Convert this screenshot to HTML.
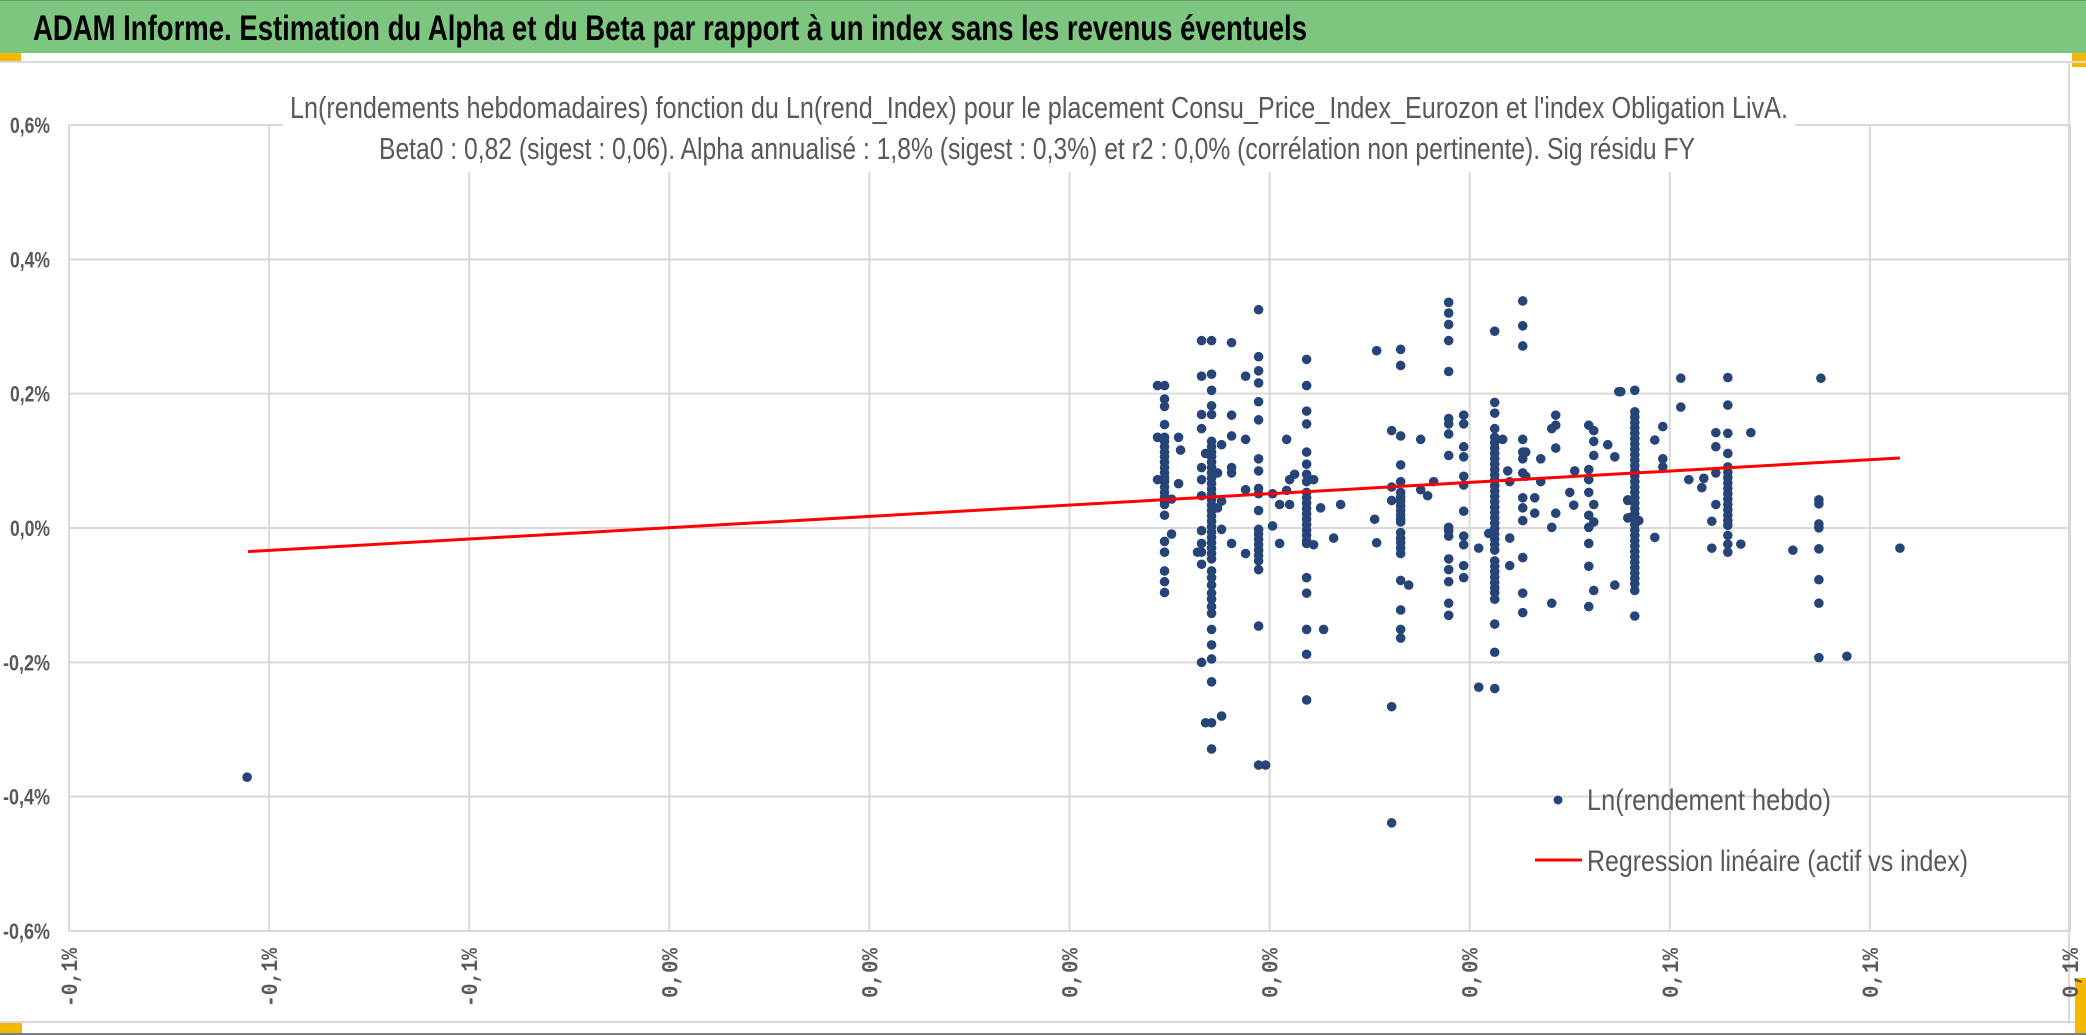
<!DOCTYPE html>
<html><head><meta charset="utf-8">
<style>
html,body{margin:0;padding:0;background:#fff;}
svg{display:block;}
.ttl{font-family:"Liberation Sans Narrow","Liberation Sans",sans-serif;}
</style></head>
<body>
<svg id="chart" width="2086" height="1035" viewBox="0 0 2086 1035" xmlns="http://www.w3.org/2000/svg">
  <rect x="0" y="0" width="2086" height="1035" fill="#ffffff"/>
  <rect x="0" y="0" width="2086" height="53" fill="#7dc680"/>
  <line x1="0" y1="0.5" x2="2086" y2="0.5" stroke="#6a9a6c" stroke-width="1"/>
  <text x="33" y="40" class="ttl" font-size="35" font-weight="bold" fill="#000" textLength="1274" lengthAdjust="spacingAndGlyphs">ADAM Informe. Estimation du Alpha et du Beta par rapport à un index sans les revenus éventuels</text>
  <rect x="0" y="53" width="21" height="8" fill="#f5b800"/>
  <rect x="2072" y="53" width="14" height="14" fill="#f5b800"/>
  <line x1="0" y1="62" x2="2086" y2="62" stroke="#d9d9d9" stroke-width="2"/>
  <line x1="2069" y1="62" x2="2069" y2="1022" stroke="#d9d9d9" stroke-width="2"/>
  <line x1="0" y1="1022" x2="2086" y2="1022" stroke="#d9d9d9" stroke-width="2"/>
  <line x1="0" y1="1034" x2="2086" y2="1034" stroke="#7f7f7f" stroke-width="2"/>
  <rect x="0" y="1023" width="22" height="10" fill="#f5b800"/>
  <rect x="2075" y="978" width="11" height="55" fill="#f5b800"/>
  <g id="grid"></g>
  <g id="ylabels"></g>
  <g id="xlabels"></g>
  <rect x="283" y="85" width="1512" height="87" fill="#ffffff"/>
  <text x="290" y="118" class="ttl" font-size="31" fill="#595959" textLength="1498" lengthAdjust="spacingAndGlyphs">Ln(rendements hebdomadaires) fonction du Ln(rend_Index) pour le placement Consu_Price_Index_Eurozon et l'index Obligation LivA.</text>
  <text x="379" y="159" class="ttl" font-size="31" fill="#595959" textLength="1316" lengthAdjust="spacingAndGlyphs">Beta0 : 0,82 (sigest : 0,06). Alpha annualisé : 1,8% (sigest : 0,3%) et r2 : 0,0% (corrélation non pertinente). Sig résidu FY</text>
  <g id="points"></g>
  <g id="reg"></g>
  <g>
    <circle cx="1558" cy="800" r="4.5" fill="#264478"/>
    <text x="1587" y="810" class="ttl" font-size="30" fill="#595959" textLength="244" lengthAdjust="spacingAndGlyphs">Ln(rendement hebdo)</text>
    <line x1="1535" y1="860" x2="1582" y2="860" stroke="#ff0000" stroke-width="3"/>
    <text x="1587" y="871" class="ttl" font-size="30" fill="#595959" textLength="381" lengthAdjust="spacingAndGlyphs">Regression linéaire (actif vs index)</text>
  </g>
</svg>
<script>
// ---- data ----
const xTicks = [-0.1,-0.08,-0.06,-0.04,-0.02,0,0.02,0.04,0.06,0.08,0.1];
const xTickLabels = ["-0,1%","-0,1%","-0,1%","0,0%","0,0%","0,0%","0,0%","0,0%","0,1%","0,1%","0,1%"];
const yTicks = [0.6,0.4,0.2,0,-0.2,-0.4,-0.6];
const yTickLabels = ["0,6%","0,4%","0,2%","0,0%","-0,2%","-0,4%","-0,6%"];
const colX = [0.0095,0.0088,0.0102,0.0109,0.0111,0.0132,0.0136,0.0128,0.0142,0.0152,0.0148,0.0162,0.0176,
  0.0189,0.0196,0.0203,0.0210,0.0217,0.0220,0.0225,0.0237,0.0244,0.0251,0.0254,0.0264,0.0271,
  0.0305,0.0307,0.0322,0.0331,0.0339,0.0351,0.0358,0.0364,0.0379,0.0394,0.0409,0.0419,0.0425,0.0433,0.0438,0.0440,
  0.0453,0.0456,0.0465,0.0471,0.0482,0.0486,0.0500,0.0504,0.0505,0.0519,0.0524,0.0538,0.0545,0.0549,
  0.0558,0.0565,0.0551,0.0569,0.0561,0.0585,0.0593,0.0611,0.0619,0.0632,0.0634,0.0642,0.0646,
  0.0658,0.0671,0.0681,0.0723,0.0749,0.0751,0.0777,0.0830,-0.0822];
const colY = [
  [0.212,0.192,0.181,0.154,0.135,0.129,0.121,0.113,0.106,0.098,0.090,0.082,0.075,0.069,0.061,0.053,0.046,0.040,0.035,0.019,-0.020,-0.036,-0.064,-0.080,-0.096],
  [0.212,0.135,0.072],
  [0.043,-0.009],
  [0.135,0.066],
  [0.116],
  [0.279,0.226,0.169,0.148,0.090,0.072,0.048,-0.004,-0.023,-0.036,-0.054,-0.200],
  [0.111,-0.290],
  [-0.036],
  [0.279,0.229,0.205,0.182,0.169,0.129,0.121,0.113,0.106,0.098,0.090,0.082,0.074,0.066,0.058,0.050,0.042,0.034,0.026,0.018,0.010,0.002,-0.006,-0.014,-0.022,-0.030,-0.038,-0.046,-0.064,-0.074,-0.085,-0.097,-0.106,-0.117,-0.127,-0.151,-0.174,-0.195,-0.229,-0.290,-0.329],
  [-0.280,0.124,0.040,-0.002],
  [0.082,0.030],
  [0.276,0.168,0.137,0.090,0.082,-0.023],
  [0.226,0.132,0.057,-0.038],
  [0.325,0.255,0.234,0.216,0.188,0.161,0.103,0.085,0.059,0.051,0.026,-0.002,-0.009,-0.017,-0.025,-0.033,-0.041,-0.049,-0.062,-0.146,-0.353],
  [-0.353],
  [0.051,0.003],
  [0.035,-0.023],
  [0.132,0.056],
  [0.072,0.035],
  [0.080],
  [0.251,0.212,0.174,0.155,0.113,0.095,0.080,0.069,0.053,0.045,0.037,0.029,0.021,0.013,0.005,-0.003,-0.011,-0.019,-0.023,-0.074,-0.097,-0.151,-0.188,-0.256],
  [0.072,-0.025],
  [0.030],
  [-0.151],
  [-0.015],
  [0.035],
  [0.013],
  [0.264,-0.022],
  [0.145,0.061,0.041,-0.266,-0.439],
  [0.266,0.242,0.137,0.094,0.069,0.053,0.046,0.040,0.033,0.026,0.019,0.013,0.009,-0.007,-0.015,-0.022,-0.030,-0.038,-0.078,-0.122,-0.151,-0.164],
  [-0.085],
  [0.132,0.057],
  [0.048],
  [0.069],
  [0.336,0.320,0.303,0.279,0.233,0.163,0.155,0.140,0.108,0.001,-0.004,-0.012,-0.046,-0.062,-0.080,-0.112,-0.130],
  [0.168,0.155,0.121,0.106,0.077,0.064,0.025,-0.012,-0.025,-0.056,-0.074],
  [-0.030,-0.237],
  [-0.008],
  [0.293,0.187,0.171,0.148,0.135,0.127,0.119,0.111,0.103,0.095,0.087,0.079,0.071,0.063,0.055,0.047,0.039,0.031,0.023,0.015,0.007,-0.001,-0.009,-0.017,-0.025,-0.033,-0.049,-0.057,-0.065,-0.073,-0.081,-0.089,-0.096,-0.106,-0.143,-0.185,-0.239],
  [0.132],
  [0.085],
  [0.069,-0.015,-0.056],
  [0.338,0.301,0.271,0.132,0.113,0.103,0.082,0.045,0.030,0.011,-0.044,-0.097,-0.126],
  [0.113,0.077],
  [0.045,0.022],
  [0.103,0.069],
  [-0.112,0.001,0.148],
  [0.168,0.153,0.119,0.022],
  [0.053],
  [0.034],
  [0.085],
  [0.153,0.087,0.072,0.053,0.019,0.001,-0.023,-0.057,-0.117],
  [0.145,0.129,0.108,0.035,0.009,-0.093],
  [0.124],
  [0.106,-0.085],
  [0.203],
  [0.041,0.015,0.042],
  [0.205,0.173,0.165,0.157,0.149,0.141,0.133,0.125,0.117,0.109,0.101,0.093,0.085,0.077,0.069,0.061,0.053,0.045,0.037,0.029,0.021,0.013,0.005,-0.003,-0.011,-0.019,-0.027,-0.035,-0.043,-0.051,-0.059,-0.067,-0.075,-0.083,-0.093,-0.131],
  [0.203],
  [0.011],
  [0.016],
  [0.131,-0.014],
  [0.151,0.103,0.091],
  [0.223,0.180],
  [0.072],
  [0.060],
  [0.074],
  [0.010,-0.030],
  [0.142,0.121,0.082,0.035],
  [0.224,0.183,0.141,0.111,0.091,0.083,0.075,0.067,0.059,0.051,0.043,0.035,0.027,0.019,0.011,0.004,-0.011,-0.024,-0.036],
  [-0.024],
  [0.142],
  [-0.033],
  [0.042,0.036,0.006,0.0003,-0.031,-0.077,-0.112,-0.193],
  [0.223],
  [-0.191],
  [-0.030],
  [-0.371]
];
const regX = [-0.0821, 0.0830];
const regY = [-0.0351, 0.1042];

// ---- axes ----
const PL = 69, PR = 2070, PT = 125, PB = 931;
const xMin = -0.1, xMax = 0.1, yMin = -0.6, yMax = 0.6;
function sx(v){ return PL + (v - xMin) / (xMax - xMin) * (PR - PL); }
function sy(v){ return PB - (v - yMin) / (yMax - yMin) * (PB - PT); }
const NS = "http://www.w3.org/2000/svg";
function mk(tag, attrs, parent){
  const el = document.createElementNS(NS, tag);
  for (const k in attrs) el.setAttribute(k, attrs[k]);
  parent.appendChild(el);
  return el;
}
const grid = document.getElementById('grid');
const ylab = document.getElementById('ylabels');
const xlab = document.getElementById('xlabels');
yTicks.forEach((t, i) => {
  const l = mk('line', {x1: PL, x2: PR, y1: sy(t), y2: sy(t), stroke: '#d9d9d9', 'stroke-width': 2}, grid);
  
  
  const lab = yTickLabels[i];
  const w = lab.length > 4 ? 47 : 40;
  const tx = mk('text', {x: 50 - w, y: sy(t) + 8, 'font-family': '"Liberation Sans Narrow","Liberation Sans",sans-serif', 'font-size': 22, 'font-weight': 'bold', fill: '#595959', textLength: w, lengthAdjust: 'spacingAndGlyphs'}, ylab);
  tx.textContent = lab;
  
  
});
xTicks.forEach((t, i) => {
  const l = mk('line', {x1: sx(t), x2: sx(t), y1: PT, y2: PB, stroke: '#d9d9d9', 'stroke-width': 2}, grid);
  
  
  const lab = xTickLabels[i];
  const w = lab.length > 4 ? 59 : 50;
  const x = sx(t) + 8, y = 948 + w;
  const tx = mk('text', {x: x, y: y, transform: 'rotate(-90 ' + x + ' ' + y + ')', 'font-family': '"Liberation Mono",monospace', 'font-size': 23, 'font-weight': 'bold', fill: '#595959', textLength: w, lengthAdjust: 'spacingAndGlyphs'}, xlab);
  tx.textContent = lab;
  
  
});
// ---- scatter ----
const pts = document.getElementById('points');
colX.forEach((xv, ci) => {
  colY[ci].forEach(yv => {
    const c = mk('circle', {cx: sx(xv), cy: sy(yv), r: 4.8, fill: '#264478'}, pts);
    
    
  });
});
// ---- regression ----
const reg = document.getElementById('reg');
const rl = mk('line', {x1: sx(regX[0]), y1: sy(regY[0]), x2: sx(regX[1]), y2: sy(regY[1]), stroke: '#ff0000', 'stroke-width': 3}, reg);


</script>
</body></html>
